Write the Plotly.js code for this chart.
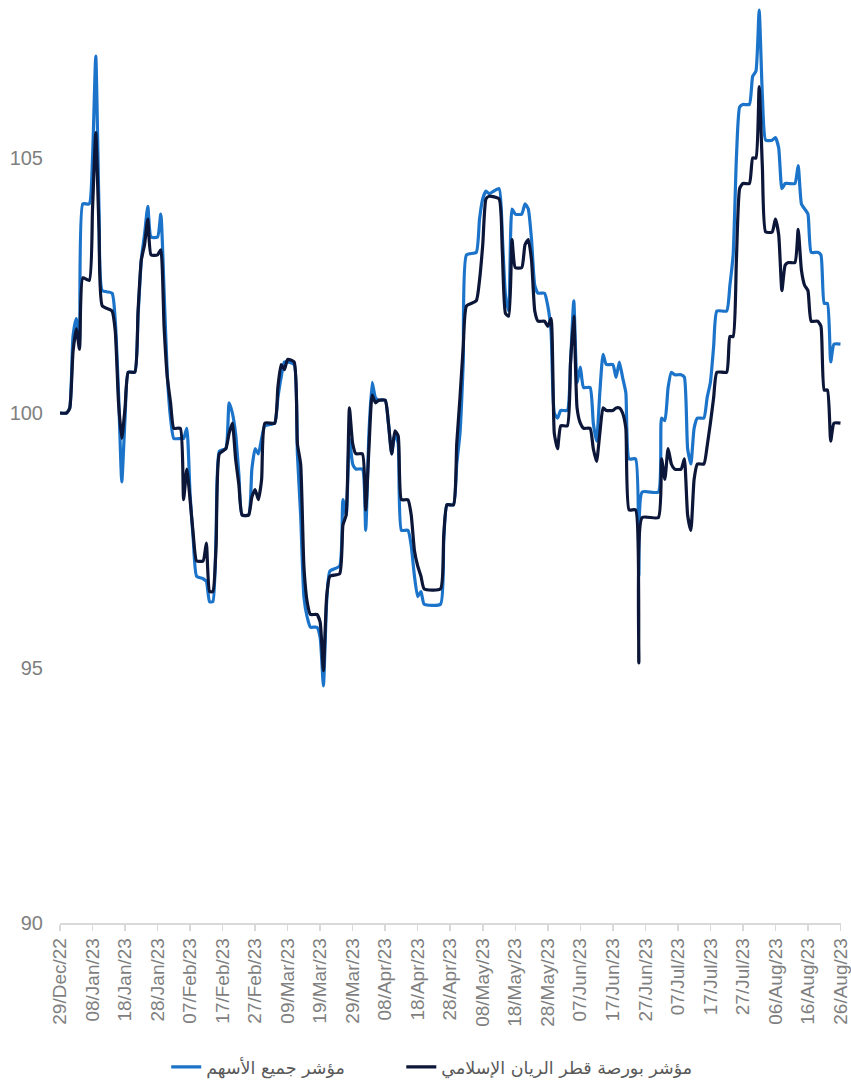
<!DOCTYPE html>
<html>
<head>
<meta charset="utf-8">
<script src="https://cdn.plot.ly/plotly-3.0.1.min.js"></script>
<style>html,body{margin:0;padding:0;background:#fff;}#chart{width:851px;height:1080px;}</style>
</head>
<body>
<div id="chart"></div>
<script>
const dates = [
"2022-12-29","2022-12-31","2023-01-01","2023-01-02","2023-01-03","2023-01-04","2023-01-05","2023-01-07","2023-01-08","2023-01-09",
"2023-01-10","2023-01-11","2023-01-14","2023-01-15","2023-01-16","2023-01-17","2023-01-18","2023-01-19","2023-01-21","2023-01-22",
"2023-01-23","2023-01-24","2023-01-25","2023-01-26","2023-01-28","2023-01-29","2023-01-30","2023-01-31","2023-02-01","2023-02-02",
"2023-02-04","2023-02-05","2023-02-06","2023-02-07","2023-02-08","2023-02-09","2023-02-11","2023-02-12","2023-02-13","2023-02-14",
"2023-02-15","2023-02-16","2023-02-18","2023-02-19","2023-02-20","2023-02-21","2023-02-22","2023-02-23","2023-02-25","2023-02-26",
"2023-02-27","2023-02-28","2023-03-01","2023-03-02","2023-03-05","2023-03-06","2023-03-07","2023-03-08","2023-03-09","2023-03-11",
"2023-03-12","2023-03-13","2023-03-14","2023-03-15","2023-03-16","2023-03-18","2023-03-19","2023-03-20","2023-03-21","2023-03-22",
"2023-03-25","2023-03-26","2023-03-27","2023-03-28","2023-03-29","2023-03-30","2023-04-01","2023-04-02","2023-04-03","2023-04-04",
"2023-04-05","2023-04-06","2023-04-08","2023-04-09","2023-04-10","2023-04-11","2023-04-12","2023-04-13","2023-04-15","2023-04-16",
"2023-04-17","2023-04-18","2023-04-19","2023-04-20","2023-04-25","2023-04-26","2023-04-27","2023-04-29","2023-04-30","2023-05-01",
"2023-05-02","2023-05-03","2023-05-06","2023-05-07","2023-05-08","2023-05-09","2023-05-10","2023-05-13","2023-05-14","2023-05-15",
"2023-05-16","2023-05-17","2023-05-18","2023-05-20","2023-05-21","2023-05-22","2023-05-23","2023-05-24","2023-05-25","2023-05-27",
"2023-05-28","2023-05-29","2023-05-30","2023-05-31","2023-06-01","2023-06-03","2023-06-04","2023-06-05","2023-06-06","2023-06-07",
"2023-06-08","2023-06-10","2023-06-11","2023-06-12","2023-06-13","2023-06-14","2023-06-15","2023-06-17","2023-06-18","2023-06-19",
"2023-06-20","2023-06-21","2023-06-22","2023-06-24","2023-06-25","2023-06-26","2023-07-01","2023-07-02","2023-07-03","2023-07-04",
"2023-07-05","2023-07-06","2023-07-08","2023-07-09","2023-07-10","2023-07-11","2023-07-12","2023-07-13","2023-07-15","2023-07-16",
"2023-07-17","2023-07-18","2023-07-19","2023-07-22","2023-07-23","2023-07-24","2023-07-25","2023-07-26","2023-07-27","2023-07-29",
"2023-07-30","2023-07-31","2023-08-01","2023-08-02","2023-08-03","2023-08-05","2023-08-06","2023-08-07","2023-08-08","2023-08-09",
"2023-08-10","2023-08-12","2023-08-13","2023-08-14","2023-08-15","2023-08-16","2023-08-17","2023-08-19","2023-08-20","2023-08-21",
"2023-08-22","2023-08-23","2023-08-24","2023-08-26"
];

const allShareIndex = [
100,100,100.1,101.5,101.85,101.4,104.1,104.1,105.0,107.0,
104.0,102.4,102.35,101.8,100.4,98.65,99.9,100.8,100.8,101.9,
103.0,103.5,104.05,103.45,103.45,103.9,102.4,100.75,99.9,99.5,
99.5,99.5,99.7,98.4,97.5,96.8,96.75,96.7,96.3,96.3,
97.6,99.25,99.3,100.2,100.0,99.6,98.8,98.0,98.0,98.9,
99.3,99.2,99.5,99.75,99.8,100.3,100.7,101.0,101.0,100.95,
99.2,98.0,96.4,96.0,95.8,95.8,95.6,94.65,96.3,96.9,
97.0,98.3,98.0,99.5,99.0,98.9,98.9,97.7,99.6,100.6,
100.3,100.25,100.25,99.8,99.2,99.6,99.4,97.7,97.7,97.4,
96.8,96.4,96.5,96.25,96.25,97.5,98.2,98.2,99.0,99.6,
101.0,103.1,103.15,103.8,104.2,104.35,104.3,104.4,103.5,102.3,
102.0,104.0,103.9,103.9,104.1,104.0,103.4,102.5,102.35,102.35,
102.1,101.6,100.0,99.9,100.05,100.05,101.0,102.2,100.6,100.9,
100.5,100.5,99.8,99.45,100.4,101.15,100.95,100.95,100.7,101.0,
100.7,100.4,99.1,99.1,96.8,98.45,98.45,99.9,99.85,100.5,
100.8,100.75,100.75,100.7,99.3,99.0,99.7,99.9,99.9,100.3,
100.6,101.3,102.0,102.0,102.5,103.1,105.0,106.0,106.05,106.05,
106.6,106.7,107.9,106.2,105.35,105.35,105.4,105.2,104.4,104.5,
104.5,104.5,104.85,104.1,104.0,103.9,103.15,103.15,103.1,102.15,
102.15,101.0,101.35,101.35
];

const rayanIslamicIndex = [
100,100,100.1,101.2,101.65,101.25,102.65,102.6,104.0,105.5,
103.6,102.1,102.0,101.6,100.2,99.5,100.1,100.8,100.8,102.0,
103.0,103.3,103.8,103.1,103.1,103.2,101.7,100.7,100.2,99.7,
99.7,98.3,98.9,98.3,97.6,97.1,97.1,97.45,96.5,96.5,
97.4,99.2,99.3,99.6,99.8,99.1,98.6,98.0,98.0,98.35,
98.5,98.3,98.7,99.8,99.8,100.5,100.95,100.85,101.05,101.0,
99.4,99.0,97.0,96.3,96.05,96.05,95.9,94.95,96.4,96.8,
96.85,97.8,98.0,100.1,99.4,99.2,99.2,98.1,99.3,100.35,
100.2,100.25,100.25,99.8,99.2,99.65,99.55,98.3,98.3,98.0,
97.3,97.0,96.8,96.55,96.55,97.6,98.2,98.2,99.4,100.3,
101.3,102.1,102.2,102.6,103.3,104.2,104.25,104.2,103.2,101.95,
101.9,103.4,102.85,102.85,103.3,103.4,103.0,102.0,101.8,101.8,
101.7,101.85,99.6,99.3,99.75,99.75,101.0,101.9,100.1,99.8,
99.7,99.7,99.3,99.05,99.6,100.1,100.05,100.05,100.1,100.1,
100.0,99.7,98.1,98.1,95.1,97.95,97.95,99.1,98.7,99.3,
99.0,98.9,98.9,99.1,98.0,97.7,98.7,99.0,99.0,99.35,
99.8,100.3,100.8,100.8,101.5,101.5,103.0,104.4,104.5,104.5,
105.0,105.0,106.4,104.8,103.55,103.55,103.8,103.5,102.4,102.9,
102.95,102.95,103.6,102.8,102.5,102.4,101.8,101.8,101.7,100.45,
100.45,99.45,99.8,99.8
];

const seriesNames = ["مؤشر جميع الأسهم", "مؤشر بورصة قطر الريان الإسلامي"];
const yTickValues = [90, 95, 100, 105];

const xTickFont = {family: '"Liberation Sans", Arial, sans-serif', size: 19, color: '#7f7f7f'};
const yTickFont = {family: '"Liberation Sans", Arial, sans-serif', size: 20, color: '#7f7f7f'};
const legendFont = {family: '"DejaVu Sans", "Liberation Sans", sans-serif', size: 17.5, color: '#595959'};

const traces = [
  {x: dates, y: allShareIndex, name: seriesNames[0], type: 'scatter', mode: 'lines', legend: 'legend',
   line: {color: '#1b74c9', width: 3.2, shape: 'spline', smoothing: 0.5}},
  {x: dates, y: rayanIslamicIndex, name: seriesNames[1], type: 'scatter', mode: 'lines', legend: 'legend2',
   line: {color: '#0b1638', width: 3.2, shape: 'spline', smoothing: 0.5}}
];

const layout = {
  width: 851, height: 1080,
  margin: {l: 60, r: 10, t: 5, b: 157},
  paper_bgcolor: '#ffffff', plot_bgcolor: '#ffffff',
  showlegend: true,
  xaxis: {
    type: 'date', range: ['2022-12-29', '2023-08-26 04:00'],
    tick0: '2022-12-29', dtick: 10 * 86400000, tickformat: '%d/%b/%y',
    tickangle: -90, tickfont: xTickFont,
    showgrid: false, zeroline: false,
    showline: true, linecolor: '#d9d9d9', linewidth: 1.5,
    ticks: 'outside', ticklen: 6, tickcolor: '#d9d9d9', tickwidth: 1.5
  },
  yaxis: {
    range: [90, 108], tickvals: yTickValues, ticktext: yTickValues.map(String),
    tickfont: yTickFont, showgrid: false, zeroline: false, showline: false,
    ticks: '', ticklabelstandoff: 16
  },
  legend: {
    orientation: 'h', xref: 'paper', x: 0.136, xanchor: 'left',
    yref: 'container', y: 0.012, yanchor: 'middle', font: legendFont
  },
  legend2: {
    orientation: 'h', xref: 'paper', x: 0.437, xanchor: 'left',
    yref: 'container', y: 0.012, yanchor: 'middle', font: legendFont
  }
};

Plotly.newPlot('chart', traces, layout, {displayModeBar: false, staticPlot: true});
</script>
</body>
</html>
